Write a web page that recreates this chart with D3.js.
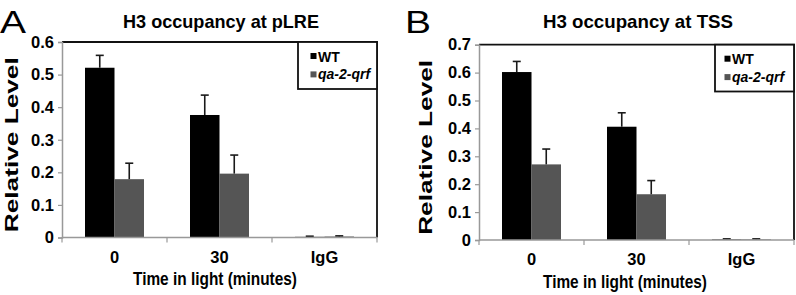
<!DOCTYPE html>
<html>
<head>
<meta charset="utf-8">
<script src="https://cdnjs.cloudflare.com/ajax/libs/d3/7.8.5/d3.min.js"></script>
<style>
  body { margin: 0; background: #fff; }
  svg { font-family: "Liberation Sans", Arial, sans-serif; }
</style>
</head>
<body>
<div id="chart"></div>
<script>
// categories / series
let categories = ["0", "30", "IgG"];
let seriesNames = ["WT", "qa-2-qrf"];

// panel A: H3 occupancy at pLRE
let pLRE_wt = [0.521, 0.376, 0.002];
let pLRE_wtErr = [0.038, 0.061, 0.002];
let pLRE_mut = [0.179, 0.196, 0.003];
let pLRE_mutErr = [0.049, 0.057, 0.002];
let pLRE_ticks = [0, 0.1, 0.2, 0.3, 0.4, 0.5, 0.6];

// panel B: H3 occupancy at TSS
let tss_wt = [0.602, 0.406, 0.002];
let tss_wtErr = [0.038, 0.05, 0.002];
let tss_mut = [0.271, 0.164, 0.002];
let tss_mutErr = [0.055, 0.049, 0.002];
let tss_ticks = [0, 0.1, 0.2, 0.3, 0.4, 0.5, 0.6, 0.7];

let colors = ["#000000", "#555555"];

let svg = d3.select("#chart").append("svg")
    .attr("width", 796)
    .attr("height", 295);

drawPanel({
    letter: "A", title: "H3 occupancy at pLRE", titleX: 221, titleW: 196,
    x0: 62, x1: 377, y0: 42, y1: 237.5,
    yMax: 0.6, ticks: pLRE_ticks,
    wt: pLRE_wt, wtErr: pLRE_wtErr, mut: pLRE_mut, mutErr: pLRE_mutErr,
    letterX: 0, letterY: 33,
    ylabX: 18, xlabX: 215, xlabY: 285,
    legendX: 298, legendY: 89, legPad: 12.5
});

drawPanel({
    letter: "B", title: "H3 occupancy at TSS", titleX: 638, titleW: 190,
    x0: 479, x1: 794, y0: 44.7, y1: 240,
    yMax: 0.7, ticks: tss_ticks,
    wt: tss_wt, wtErr: tss_wtErr, mut: tss_mut, mutErr: tss_mutErr,
    letterX: 405, letterY: 33,
    ylabX: 432, xlabX: 625, xlabY: 288,
    legendX: 715, legendY: 91.5, legPad: 9.5
});

function drawPanel(p) {
    let g = svg.append("g");

    let xScale = d3.scaleBand()
        .domain(categories)
        .range([p.x0, p.x1]);

    let inner = d3.scaleBand()
        .domain(seriesNames)
        .range([0, xScale.bandwidth()])
        .paddingOuter(0.78)
        .paddingInner(0);

    let yScale = d3.scaleLinear()
        .domain([0, p.yMax])
        .range([p.y1, p.y0]);

    // panel letter and title
    g.append("text")
        .attr("x", p.letterX).attr("y", p.letterY)
        .attr("textLength", 26).attr("lengthAdjust", "spacingAndGlyphs")
        .style("font-size", "32px")
        .text(p.letter);

    g.append("text")
        .attr("x", p.titleX - p.titleW / 2).attr("y", 27.7)
        .attr("textLength", p.titleW).attr("lengthAdjust", "spacingAndGlyphs")
        .style("font-size", "19px").style("font-weight", "bold")
        .text(p.title);

    // frame top & right
    g.append("path")
        .attr("d", "M" + p.x0 + "," + p.y0 + "H" + p.x1 + "V" + p.y1)
        .attr("fill", "none").attr("stroke", "#111").attr("stroke-width", 1.8);

    // bars
    let rows = categories.map(function(c, i) {
        return [
            { cat: c, s: seriesNames[0], v: p.wt[i], e: p.wtErr[i], color: colors[0] },
            { cat: c, s: seriesNames[1], v: p.mut[i], e: p.mutErr[i], color: colors[1] }
        ];
    }).flat();

    g.selectAll("rect.bar")
        .data(rows)
        .enter()
        .append("rect")
        .attr("class", "bar")
        .attr("x", function(d) { return xScale(d.cat) + inner(d.s); })
        .attr("y", function(d) { return yScale(d.v); })
        .attr("width", inner.bandwidth())
        .attr("height", function(d) { return yScale(0) - yScale(d.v); })
        .attr("fill", function(d) { return d.color; });

    // error bars (upper only)
    let err = g.selectAll("g.err")
        .data(rows)
        .enter()
        .append("g")
        .attr("class", "err")
        .attr("stroke", "#1a1a1a")
        .attr("stroke-width", 1.6);

    err.append("line")
        .attr("x1", function(d) { return xScale(d.cat) + inner(d.s) + inner.bandwidth() / 2; })
        .attr("x2", function(d) { return xScale(d.cat) + inner(d.s) + inner.bandwidth() / 2; })
        .attr("y1", function(d) { return yScale(d.v); })
        .attr("y2", function(d) { return yScale(d.v + d.e); });

    err.append("line")
        .attr("x1", function(d) { return xScale(d.cat) + inner(d.s) + inner.bandwidth() / 2 - 4; })
        .attr("x2", function(d) { return xScale(d.cat) + inner(d.s) + inner.bandwidth() / 2 + 4; })
        .attr("y1", function(d) { return yScale(d.v + d.e); })
        .attr("y2", function(d) { return yScale(d.v + d.e); });

    // y axis
    let yAxis = d3.axisLeft(yScale)
        .tickValues(p.ticks)
        .tickFormat(function(d) { return d === 0 ? "0" : d3.format(".1f")(d); })
        .tickSize(4)
        .tickPadding(4);

    let ya = g.append("g")
        .attr("transform", "translate(" + p.x0 + ",0)")
        .call(yAxis);
    ya.select(".domain").attr("stroke", "#999").attr("stroke-width", 1.5);
    ya.selectAll(".tick line").attr("stroke", "#999").attr("stroke-width", 1.2);
    ya.selectAll(".tick text")
        .style("font-size", "16.5px").style("font-weight", "bold")
        .style("font-family", "Liberation Sans, Arial, sans-serif")
        .attr("fill", "#000");

    // x axis: ticks at category boundaries
    let xa = g.append("g")
        .attr("transform", "translate(0," + p.y1 + ")");
    xa.append("line")
        .attr("x1", p.x0).attr("x2", p.x1)
        .attr("stroke", "#999").attr("stroke-width", 1.5);
    let bounds = categories.map(function(c) { return xScale(c); }).concat([p.x1]);
    xa.selectAll("line.tk")
        .data(bounds)
        .enter()
        .append("line")
        .attr("class", "tk")
        .attr("x1", function(d) { return d; }).attr("x2", function(d) { return d; })
        .attr("y1", 0).attr("y2", 5)
        .attr("stroke", "#999").attr("stroke-width", 1.2);
    xa.selectAll("text")
        .data(categories)
        .enter()
        .append("text")
        .attr("x", function(d) { return xScale(d) + xScale.bandwidth() / 2; })
        .attr("y", 25)
        .attr("text-anchor", "middle")
        .style("font-size", "16.5px").style("font-weight", "bold")
        .text(function(d) { return d; });

    // axis titles
    g.append("text")
        .attr("x", p.xlabX - 82).attr("y", p.xlabY)
        .attr("textLength", 164).attr("lengthAdjust", "spacingAndGlyphs")
        .style("font-size", "18.5px").style("font-weight", "bold")
        .text("Time in light (minutes)");

    g.append("text")
        .attr("transform", "translate(" + p.ylabX + "," + ((p.y0 + p.y1) / 2 + 5) + ") rotate(-90)")
        .attr("x", -87.5)
        .attr("textLength", 175).attr("lengthAdjust", "spacingAndGlyphs")
        .style("font-size", "19px").style("font-weight", "bold")
        .text("Relative Level");

    // legend
    let lg = g.append("g");
    lg.append("rect")
        .attr("x", p.legendX).attr("y", p.y0)
        .attr("width", p.x1 - p.legendX).attr("height", p.legendY - p.y0)
        .attr("fill", "#fff").attr("stroke", "#111").attr("stroke-width", 1.8);
    seriesNames.forEach(function(s, i) {
        lg.append("rect")
            .attr("x", p.legendX + p.legPad).attr("y", p.y0 + 11 + i * 18.4)
            .attr("width", 6).attr("height", 6)
            .attr("fill", colors[i]);
        lg.append("text")
            .attr("x", p.legendX + p.legPad + 7.5).attr("y", p.y0 + 19.5 + i * 17.5)
            .style("font-size", "14px").style("font-weight", "bold")
            .style("font-style", i == 1 ? "italic" : "normal")
            .text(s);
    });
}
</script>
</body>
</html>
